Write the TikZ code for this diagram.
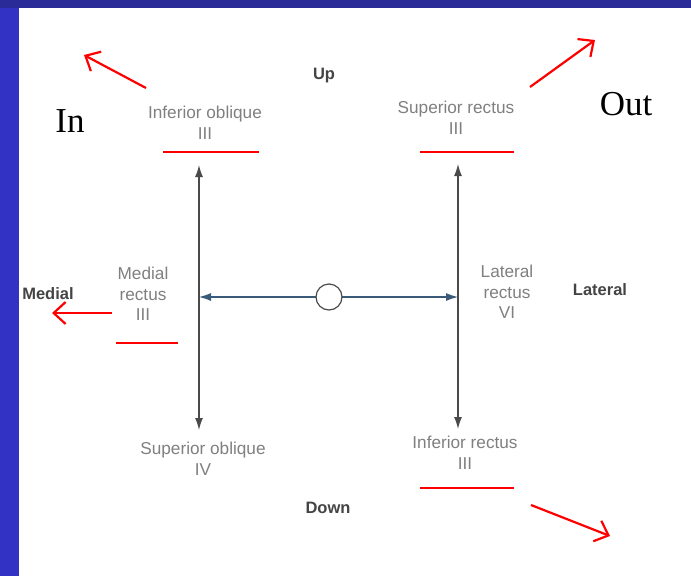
\documentclass[tikz,border=0pt]{standalone}
\usepackage{fontspec}
\setmainfont{Liberation Sans}
\newfontfamily\serifface{Liberation Serif}
\usetikzlibrary{arrows.meta}
\definecolor{bgblue}{HTML}{2A2A98}
\definecolor{barblue}{HTML}{3232C4}
\definecolor{labgray}{HTML}{808080}
\definecolor{dirgray}{HTML}{444444}
\definecolor{axisgray}{HTML}{4A4A4A}
\definecolor{linkcol}{HTML}{3A5A7A}
\tikzset{
  lab/.style={text=labgray, font=\fontsize{17.2}{20.5}\selectfont, align=center, inner sep=0pt},
  dir/.style={text=dirgray, font=\fontsize{16.5}{19}\selectfont\bfseries, inner sep=0pt},
  big/.style={text=black, font=\serifface\fontsize{35}{40}\selectfont, inner sep=0pt},
  axis/.style={draw=axisgray, line width=1.3pt, {Latex[length=12pt,width=8pt]}-{Latex[length=12pt,width=8pt]}},
  redline/.style={draw=red, line width=2.5pt},
  redarrow/.style={draw=red, line width=2.2pt, -{Straight Barb[length=12pt,width=22pt,line width=2.2pt]}},
  pupil/.style={circle, draw=axisgray, line width=1.2pt, fill=white, minimum size=26pt, inner sep=0pt}
}
\begin{document}
\begin{tikzpicture}[x=1pt,y=-1pt]
\useasboundingbox (0,0) rectangle (691,576);
\fill[bgblue] (0,0) rectangle (691,576);
\fill[barblue] (0,8) rectangle (19,576);
\fill[white] (19,8) rectangle (691,576);

% direction words
\node[dir] (up) at (324,76) {Up};
\node[dir] (down) at (328,508) {Down};
\node[dir] (medial) at (48,294) {Medial};
\node[dir] (lateral) at (600,290) {Lateral};
\node[big] (in) at (70,121) {In};
\node[big] (out) at (626,104) {Out};

% muscle labels
\node[lab] (io) at (205,123) {Inferior oblique\\III};
\node[lab] (sr) at (456,118) {Superior rectus\\III};
\node[lab] (mr) at (143,294) {Medial\\rectus\\III};
\node[lab] (lr) at (507,292) {Lateral\\rectus\\VI};
\node[lab] (so) at (203,459) {Superior oblique\\IV};
\node[lab] (ir) at (465,453) {Inferior rectus\\III};

% axes
\coordinate (lt) at (199,165);
\coordinate (lb) at (199,430);
\coordinate (rt) at (458,164);
\coordinate (rb) at (458,429);
\coordinate (lm) at (199,297);
\coordinate (rm) at (458,297);
\draw[axis] (lt) -- (lb);
\draw[axis] (rt) -- (rb);
\draw[axis, draw=linkcol, line width=1.1pt] (lm) -- (rm);
\node[pupil] (eye) at (329,297) {};

% red underlines
\coordinate (u1a) at (163,152); \coordinate (u1b) at (259,152);
\coordinate (u2a) at (420,152); \coordinate (u2b) at (514,152);
\coordinate (u3a) at (116,343); \coordinate (u3b) at (178,343);
\coordinate (u4a) at (420,488); \coordinate (u4b) at (514,488);
\draw[redline] (u1a) -- (u1b);
\draw[redline] (u2a) -- (u2b);
\draw[redline] (u3a) -- (u3b);
\draw[redline] (u4a) -- (u4b);

% red arrows
\coordinate (a1s) at (146,88);  \coordinate (a1e) at (84,55);
\coordinate (a2s) at (530,87);  \coordinate (a2e) at (595,40);
\coordinate (a3s) at (112,313); \coordinate (a3e) at (52,313);
\coordinate (a4s) at (531,505); \coordinate (a4e) at (610,536);
\draw[redarrow] (a1s) -- (a1e);
\draw[redarrow] (a2s) -- (a2e);
\draw[redarrow] (a3s) -- (a3e);
\draw[redarrow] (a4s) -- (a4e);
\end{tikzpicture}
\end{document}
